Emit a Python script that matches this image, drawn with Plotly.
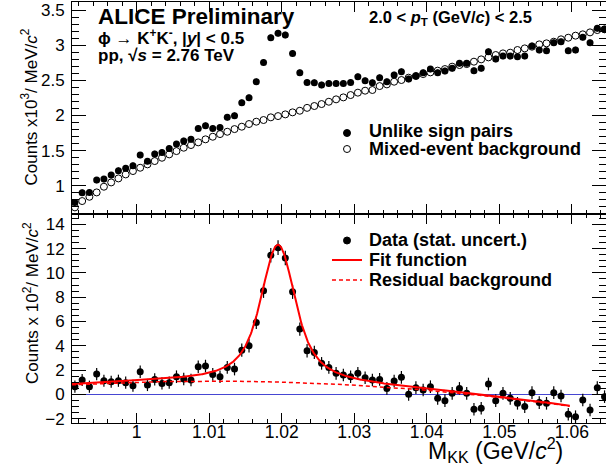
import numpy as np
import plotly.graph_objects as go

# K+K- invariant-mass bins (bin centres, GeV/c^2), 1 MeV/c^2 wide
mass = [0.9915, 0.9925, 0.9935, 0.9945, 0.9955, 0.9965, 0.9975, 0.9985, 0.9995, 1.0005,
        1.0015, 1.0025, 1.0035, 1.0045, 1.0055, 1.0065, 1.0075, 1.0085, 1.0095, 1.0105,
        1.0115, 1.0125, 1.0135, 1.0145, 1.0155, 1.0165, 1.0175, 1.0185, 1.0195, 1.0205,
        1.0215, 1.0225, 1.0235, 1.0245, 1.0255, 1.0265, 1.0275, 1.0285, 1.0295, 1.0305,
        1.0315, 1.0325, 1.0335, 1.0345, 1.0355, 1.0365, 1.0375, 1.0385, 1.0395, 1.0405,
        1.0415, 1.0425, 1.0435, 1.0445, 1.0455, 1.0465, 1.0475, 1.0485, 1.0495, 1.0505,
        1.0515, 1.0525, 1.0535, 1.0545, 1.0555, 1.0565, 1.0575, 1.0585, 1.0595, 1.0605,
        1.0615, 1.0625, 1.0635, 1.0645]

# upper panel: counts x10^3 per MeV/c^2
unlike_sign = [0.763, 0.900, 0.905, 1.080, 1.095, 1.152, 1.213, 1.247, 1.285, 1.436,
               1.350, 1.451, 1.474, 1.531, 1.593, 1.636, 1.660, 1.816, 1.854, 1.816,
               1.830, 1.973, 1.996, 2.181, 2.252, 2.480, 2.755, 3.106, 3.168, 3.144,
               2.883, 2.608, 2.470, 2.465, 2.433, 2.456, 2.456, 2.456, 2.470, 2.551,
               2.494, 2.466, 2.537, 2.480, 2.575, 2.622, 2.518, 2.561, 2.608, 2.660,
               2.608, 2.632, 2.670, 2.741, 2.741, 2.637, 2.670, 2.907, 2.803, 2.845,
               2.845, 2.836, 2.845, 2.988, 2.931, 2.921, 3.035, 3.049, 2.921, 2.931,
               3.111, 3.035, 3.239, 3.225]
unlike_sign_err = [0.045] * 74

mixed_event = [0.692, 0.782, 0.843, 0.905, 0.986, 1.047, 1.104, 1.161, 1.209, 1.256,
               1.304, 1.351, 1.398, 1.446, 1.493, 1.541, 1.579, 1.617, 1.660, 1.697,
               1.735, 1.768, 1.806, 1.840, 1.878, 1.911, 1.935, 1.973, 1.991, 2.015,
               2.044, 2.067, 2.108, 2.134, 2.162, 2.195, 2.229, 2.257, 2.290, 2.324,
               2.352, 2.362, 2.418, 2.442, 2.480, 2.504, 2.537, 2.561, 2.589, 2.613,
               2.637, 2.660, 2.694, 2.717, 2.731, 2.765, 2.798, 2.826, 2.860, 2.883,
               2.893, 2.931, 2.954, 2.978, 3.011, 3.026, 3.049, 3.083, 3.106, 3.135,
               3.154, 3.182, 3.215, 3.225]

# lower panel: background-subtracted counts x10^2 per MeV/c^2
signal = [0.63, 1.18, 0.63, 1.67, 1.12, 1.04, 1.12, 0.96, 0.71, 1.86,
          0.77, 1.23, 0.90, 0.96, 1.45, 1.26, 1.18, 2.27, 2.33, 1.64,
          1.45, 2.22, 2.08, 3.64, 4.00, 5.92, 8.52, 11.45, 12.08, 11.23,
          8.44, 5.37, 3.59, 3.45, 2.55, 2.22, 1.73, 1.59, 1.45, 1.73,
          1.37, 1.18, 1.23, 0.49, 1.10, 1.40, 0.00, 0.55, 0.36, 0.63,
          -0.33, -0.52, 0.08, 0.49, 0.08, -1.23, -1.15, 0.85, -0.52, 0.08,
          -0.33, -0.74, -1.01, 0.14, -0.68, -0.74, 0.14, -0.14, -1.64, -1.84,
          -0.47, -1.29, 0.55, -0.19]
signal_err = [0.50, 0.50, 0.50, 0.50, 0.50, 0.50, 0.50, 0.50, 0.50, 0.52,
              0.50, 0.50, 0.50, 0.50, 0.52, 0.52, 0.52, 0.52, 0.52, 0.52,
              0.52, 0.52, 0.52, 0.55, 0.55, 0.55, 0.58, 0.60, 0.60, 0.60,
              0.58, 0.55, 0.55, 0.55, 0.52, 0.52, 0.52, 0.52, 0.52, 0.52,
              0.52, 0.52, 0.52, 0.52, 0.52, 0.52, 0.52, 0.52, 0.52, 0.52,
              0.52, 0.52, 0.52, 0.52, 0.52, 0.52, 0.52, 0.52, 0.52, 0.52,
              0.52, 0.52, 0.52, 0.52, 0.52, 0.52, 0.52, 0.52, 0.52, 0.52,
              0.52, 0.52, 0.52, 0.52]

# fit: Voigtian peak + quadratic residual background
PHI_MASS = 1.0195
PHI_WIDTH = 0.00426
MASS_RES = 0.0012
PEAK_HEIGHT = 11.3
BKG_REF = 1.0225
BKG_P0, BKG_P1, BKG_P2 = 0.96, -20.75, -840.0
FIT_LO, FIT_HI = 0.9911, 1.0597

X_RANGE = [0.9911, 1.0647]
Y_TOP_RANGE = [0.605, 3.614]
Y_BOT_RANGE = [-2.36, 14.89]

FONT = "Liberation Sans, Arial, Helvetica, sans-serif"
W, H = 606, 464
ML, MR, MT, MB = 72, 0, 2, 41
SPLIT = 213.5  # pixel row where the two pads meet
SHORT_DASH = "4px,3px"


def fx(px):
    return (px - ML) / (W - ML - MR)


def fy(py):
    return (H - MB - py) / (H - MT - MB)


def voigt_shape(m):
    t = np.linspace(-5 * MASS_RES, 5 * MASS_RES, 241)
    g = np.exp(-0.5 * (t / MASS_RES) ** 2)
    half = PHI_WIDTH / 2
    lor = half ** 2 / ((m[:, None] - PHI_MASS - t[None, :]) ** 2 + half ** 2)
    return (lor * g).sum(axis=1) / g.sum()


def residual_bkg(m):
    d = m - BKG_REF
    return BKG_P0 + BKG_P1 * d + BKG_P2 * d ** 2


m_fine = np.linspace(FIT_LO, FIT_HI, 700)
peak_norm = voigt_shape(np.array([PHI_MASS]))[0]
bkg_curve = residual_bkg(m_fine)
fit_curve = PEAK_HEIGHT * voigt_shape(m_fine) / peak_norm + bkg_curve

fig = go.Figure()

# upper pad
fig.add_trace(go.Scatter(
    x=mass, y=mixed_event, xaxis="x2", yaxis="y2", mode="markers",
    marker=dict(symbol="circle-open", size=7, color="black", line=dict(width=1)),
    showlegend=False))
fig.add_trace(go.Scatter(
    x=mass, y=unlike_sign, xaxis="x2", yaxis="y2", mode="markers",
    marker=dict(symbol="circle", size=7, color="black"),
    error_y=dict(type="data", array=unlike_sign_err, width=0, thickness=1.2, color="black"),
    showlegend=False))

# lower pad
fig.add_trace(go.Scatter(
    x=mass, y=signal, xaxis="x", yaxis="y", mode="markers",
    marker=dict(symbol="circle", size=7, color="black"),
    error_y=dict(type="data", array=signal_err, width=0, thickness=1.2, color="black"),
    showlegend=False))
fig.add_trace(go.Scatter(
    x=m_fine, y=bkg_curve, xaxis="x", yaxis="y", mode="lines",
    line=dict(color="#ff0000", width=1.5, dash=SHORT_DASH), showlegend=False))
fig.add_trace(go.Scatter(
    x=m_fine, y=fit_curve, xaxis="x", yaxis="y", mode="lines",
    line=dict(color="#ff0000", width=2), showlegend=False))

axis_common = dict(
    ticks="inside", tickcolor="black", tickwidth=1, showline=True, linecolor="black",
    linewidth=1, mirror="ticks", showgrid=False,
    tickfont=dict(family=FONT, size=17, color="black"))

fig.update_layout(
    width=W, height=H, margin=dict(l=ML, r=MR, t=MT, b=MB),
    paper_bgcolor="white", plot_bgcolor="white", showlegend=False,
    xaxis=dict(axis_common, domain=[0, 1], anchor="y", range=X_RANGE,
               tick0=1.0, dtick=0.01, ticklen=10, tickformat="~g",
               ticklabelstandoff=-7,
               tickfont=dict(family=FONT, size=17.5, color="black"),
               minor=dict(ticks="inside", tick0=1.0, dtick=0.002, ticklen=4,
                          tickcolor="black", showgrid=False)),
    yaxis=dict(axis_common, domain=[0, fy(SPLIT)], anchor="x", range=Y_BOT_RANGE,
               tick0=0, dtick=2, ticklen=14, ticklabelstandoff=3,
               zeroline=True, zerolinecolor="#4646d2", zerolinewidth=1,
               minor=dict(ticks="inside", dtick=0.5, ticklen=7, tickcolor="black",
                          showgrid=False)),
    xaxis2=dict(axis_common, domain=[0, 1], anchor="y2", range=X_RANGE,
                matches="x", showticklabels=False,
                tick0=1.0, dtick=0.01, ticklen=10,
                minor=dict(ticks="inside", tick0=1.0, dtick=0.002, ticklen=4,
                           tickcolor="black", showgrid=False)),
    yaxis2=dict(axis_common, domain=[fy(SPLIT), 1], anchor="x2", range=Y_TOP_RANGE,
                tick0=0, dtick=0.5, ticklen=14, ticklabelstandoff=3, zeroline=False,
                minor=dict(ticks="inside", dtick=0.1, ticklen=7, tickcolor="black",
                           showgrid=False)),
)


def label(text, px, py, size=17, xanchor="left", yanchor="middle", angle=0, color="black"):
    fig.add_annotation(text=text, x=fx(px), y=fy(py), xref="paper", yref="paper",
                       xanchor=xanchor, yanchor=yanchor, showarrow=False, textangle=angle,
                       font=dict(family=FONT, size=size, color=color))


# axis titles
label("Counts x10<sup>3</sup>/ MeV/<i>c</i><sup>2</sup>", 30, 107.5, size=17,
      xanchor="center", angle=-90)
label("Counts x 10<sup>2</sup>/ MeV/<i>c</i><sup>2</sup>", 31, 303, size=17,
      xanchor="center", angle=-90)
label("M<sub>KK</sub> (GeV/<i>c</i><sup>2</sup>)", 495, 450, size=23, xanchor="center")

# pad captions
label("<b>ALICE Preliminary</b>", 96, 16, size=22.5)
label("<b>ϕ → K<sup>+</sup>K<sup>-</sup>, |<i>y</i>| &lt; 0.5</b>", 96, 37.5, size=17)
label("<b>pp, √<i>s</i> = 2.76 TeV</b>", 96, 56, size=17)
label("<b>2.0 &lt; <i>p</i><sub>T</sub> (GeV/<i>c</i>) &lt; 2.5</b>", 367, 18, size=16.5)

# upper legend
fig.add_shape(type="circle", xref="paper", yref="paper",
              x0=fx(343.5), x1=fx(350.5), y0=fy(136.5), y1=fy(129.5),
              fillcolor="black", line=dict(color="black", width=1))
label("<b>Unlike sign pairs</b>", 367, 131, size=18)
fig.add_shape(type="circle", xref="paper", yref="paper",
              x0=fx(343.5), x1=fx(350.5), y0=fy(152.5), y1=fy(145.5),
              fillcolor="white", line=dict(color="black", width=1))
label("<b>Mixed-event background</b>", 367, 148.5, size=18)

# lower legend
fig.add_shape(type="circle", xref="paper", yref="paper",
              x0=fx(343.5), x1=fx(350.5), y0=fy(244), y1=fy(237),
              fillcolor="black", line=dict(color="black", width=1))
label("<b>Data (stat. uncert.)</b>", 367, 240, size=18)
fig.add_shape(type="line", xref="paper", yref="paper",
              x0=fx(332), x1=fx(362), y0=fy(260), y1=fy(260),
              line=dict(color="#ff0000", width=2))
label("<b>Fit function</b>", 367, 260, size=18)
fig.add_shape(type="line", xref="paper", yref="paper",
              x0=fx(332), x1=fx(362), y0=fy(280), y1=fy(280),
              line=dict(color="#ff0000", width=1.5, dash=SHORT_DASH))
label("<b>Residual background</b>", 367, 280, size=18)

# figure identifier along the bottom edge
label("ALI-PREL-49580", 1, 461, size=12, yanchor="top", color="#c8c8c8")

fig.write_html("out.html")
